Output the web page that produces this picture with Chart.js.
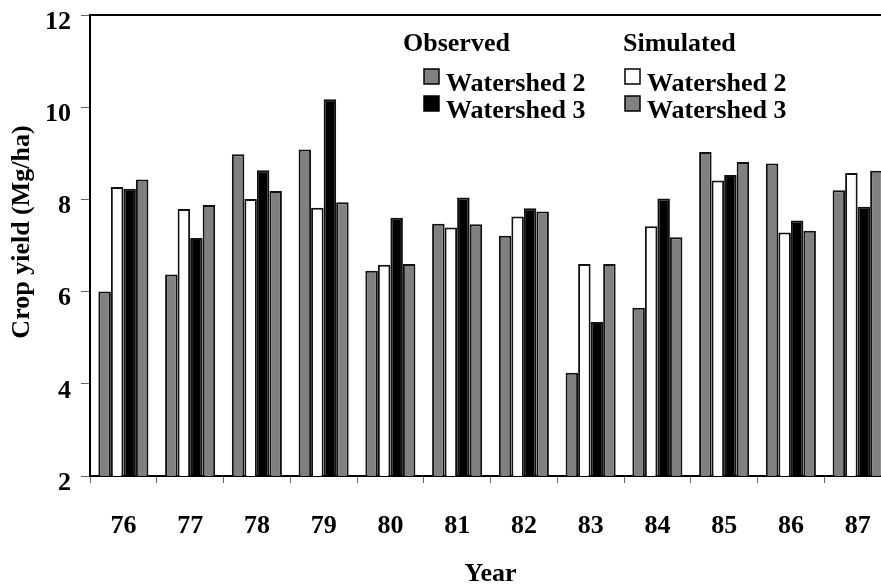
<!DOCTYPE html>
<html>
<head>
<meta charset="utf-8">
<script src="https://cdn.jsdelivr.net/npm/chart.js@4"></script>
<style>
  html, body { margin: 0; padding: 0; background: #fff; overflow: hidden; }
  #wrap { width: 893px; height: 586px; }
</style>
</head>
<body>
<div id="wrap"><canvas id="yieldChart"></canvas></div>
<script>
const years = ["76", "77", "78", "79", "80", "81", "82", "83", "84", "85", "86", "87"];
const observedWs2 = [6.0, 6.37, 8.98, 9.08, 6.45, 7.47, 7.21, 4.24, 5.65, 9.03, 8.78, 8.2];
const simulatedWs2 = [8.27, 7.79, 8.01, 7.82, 6.58, 7.39, 7.63, 6.6, 7.42, 8.41, 7.28, 8.57];
const observedWs3 = [8.23, 7.16, 8.63, 10.17, 7.6, 8.04, 7.81, 5.34, 8.02, 8.53, 7.54, 7.84];
const simulatedWs3 = [8.43, 7.88, 8.18, 7.94, 6.6, 7.46, 7.74, 6.6, 7.18, 8.81, 7.32, 8.62];
const yTicks = [2, 4, 6, 8, 10, 12];

const serif = "'Times New Roman', 'Liberation Serif', serif";
const font26 = "bold 26px " + serif;

// titles, frame and the two-column legend
const decorations = {
  id: "decorations",
  afterDraw(chart) {
    const ctx = chart.ctx;
    const area = chart.chartArea;
    const ds = chart.data.datasets;
    ctx.save();

    ctx.strokeStyle = "#000";
    ctx.lineWidth = 2;
    ctx.beginPath();
    ctx.moveTo(area.left, area.top);
    ctx.lineTo(area.right, area.top);
    ctx.lineTo(area.right, area.bottom);
    ctx.stroke();

    ctx.fillStyle = "#000";
    ctx.font = font26;
    ctx.textAlign = "center";
    ctx.textBaseline = "middle";
    ctx.fillText("Year", (area.left + area.right) / 2, 574);

    ctx.save();
    ctx.translate(22, 232);
    ctx.rotate(-Math.PI / 2);
    ctx.fillText("Crop yield (Mg/ha)", 0, 0);
    ctx.restore();

    const columns = [
      { title: "Observed", x: 403, boxX: 424, items: [ds[0], ds[2]] },
      { title: "Simulated", x: 623, boxX: 625, items: [ds[1], ds[3]] }
    ];
    ctx.textAlign = "left";
    ctx.textBaseline = "alphabetic";
    columns.forEach(col => {
      ctx.fillStyle = "#000";
      ctx.fillText(col.title, col.x, 51);
      col.items.forEach((d, i) => {
        const base = 91 + i * 27;
        ctx.fillStyle = d.backgroundColor;
        ctx.fillRect(col.boxX, base - 22, 15, 15);
        ctx.strokeStyle = "#000";
        ctx.lineWidth = 1.5;
        ctx.strokeRect(col.boxX, base - 22, 15, 15);
        ctx.fillStyle = "#000";
        ctx.fillText(d.label, col.boxX + 22, base);
      });
    });
    ctx.restore();
  }
};

const barStyle = { borderColor: "#111", borderWidth: 2, borderSkipped: "start" };

new Chart(document.getElementById("yieldChart"), {
  type: "bar",
  data: {
    labels: years,
    datasets: [
      { label: "Watershed 2", data: observedWs2, backgroundColor: "#808080", ...barStyle },
      { label: "Watershed 2", data: simulatedWs2, backgroundColor: "#ffffff", ...barStyle },
      { label: "Watershed 3", data: observedWs3, backgroundColor: "#000000", ...barStyle },
      { label: "Watershed 3", data: simulatedWs3, backgroundColor: "#808080", ...barStyle }
    ]
  },
  options: {
    responsive: true,
    maintainAspectRatio: false,
    animation: false,
    layout: { padding: { top: 15, right: 2, left: 0, bottom: 0 } },
    plugins: { legend: { display: false }, tooltip: { enabled: false } },
    datasets: { bar: { categoryPercentage: 0.75, barPercentage: 1 } },
    scales: {
      x: {
        afterFit: s => { s.height = 110; s.paddingLeft = 0; s.paddingRight = 0; },
        grid: { display: true, offset: true, drawOnChartArea: false, drawTicks: true, tickLength: 7, color: "#666", lineWidth: 1 },
        border: { display: true, color: "#000", width: 2 },
        ticks: { color: "#000", font: { family: serif, size: 26, weight: "bold" }, padding: 28, maxRotation: 0 }
      },
      y: {
        min: 2,
        max: 12,
        afterFit: s => { s.width = 90; s.paddingTop = 0; s.paddingBottom = 0; },
        afterBuildTicks: s => { s.ticks = yTicks.map(v => ({ value: v })); },
        grid: { display: true, drawOnChartArea: false, drawTicks: true, tickLength: 9, color: "#666", lineWidth: 1 },
        border: { display: true, color: "#000", width: 2 },
        ticks: { color: "#000", font: { family: serif, size: 26, weight: "bold" }, padding: 10, labelOffset: 7 }
      }
    }
  },
  plugins: [decorations]
});
</script>
</body>
</html>
